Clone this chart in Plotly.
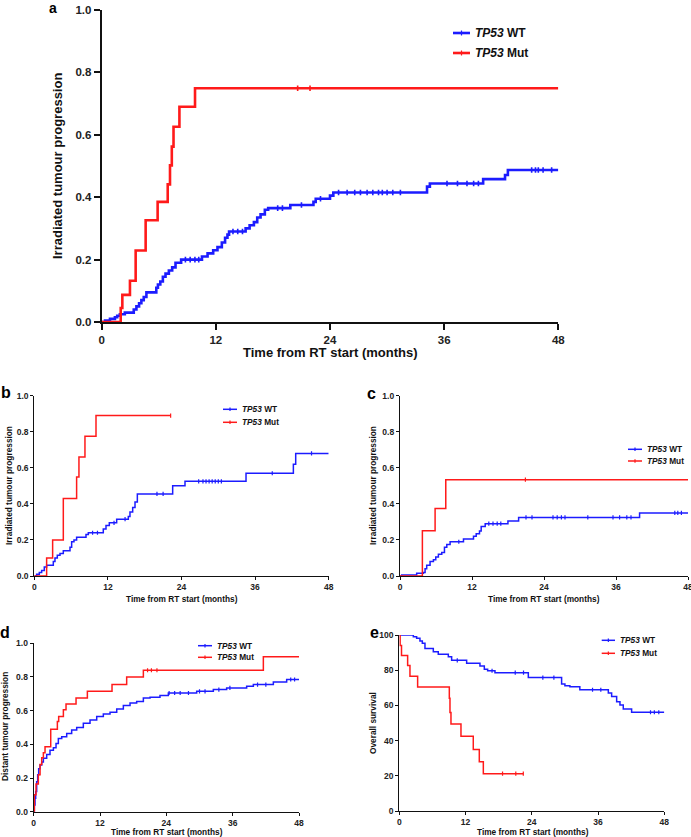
import plotly.graph_objects as go

W, H = 691, 837
FONT = "Liberation Sans, Arial, Helvetica, sans-serif"
RED = "#ff1a1a"
BLUE = "#1c1cff"

# ---------------- data (months, cumulative incidence / survival) ----------------
# Panel a
a_wt_t = [0, 0.35, 0.87, 1.39, 1.63, 1.91, 2.43, 3.37, 3.65, 3.93, 4.17, 4.42, 4.70, 5.74, 5.91, 6.16,
          6.43, 6.71, 7.06, 7.41, 7.76, 8.35, 10.54, 11.13, 11.72, 12.17, 12.63, 12.97, 13.22, 13.39,
          15.13, 15.55, 16.0, 16.35, 16.70, 17.15, 17.50, 19.83, 22.26, 22.50, 24.0, 24.35, 34.2,
          34.5, 40.1, 42.4, 42.7, 48]
a_wt_v = [0, 0.005, 0.01, 0.015, 0.02, 0.025, 0.03, 0.04, 0.05, 0.06, 0.07, 0.08, 0.095, 0.11, 0.12,
          0.13, 0.145, 0.155, 0.165, 0.175, 0.19, 0.2, 0.21, 0.22, 0.23, 0.24, 0.255, 0.27, 0.28, 0.29,
          0.3, 0.31, 0.32, 0.335, 0.345, 0.36, 0.365, 0.375, 0.385, 0.395, 0.405, 0.415, 0.434, 0.444,
          0.458, 0.471, 0.487, 0.487]
a_wt_c = [8.8, 9.3, 9.8, 10.2, 13.8, 14.3, 14.8, 18.5, 19.0, 21.0, 23.0, 24.9, 25.8, 26.6, 27.2, 27.9,
          28.5, 29.1, 29.5, 30.0, 30.6, 31.4, 36.3, 37.4, 38.4, 39.1, 39.6, 45.2, 45.6, 45.9, 46.4, 47.3]
a_mut_t = [0, 2.0, 2.17, 2.97, 3.57, 4.62, 5.88, 6.94, 7.18, 7.37, 7.55, 8.17, 9.81, 48]
a_mut_v = [0, 0.045, 0.087, 0.132, 0.229, 0.326, 0.385, 0.441, 0.502, 0.562, 0.626, 0.69, 0.749, 0.749]
a_mut_c = [20.6, 21.9]

# Panel b
b_wt_t = [0, 0.38, 0.82, 1.2, 1.63, 2.01, 3.1, 3.37, 3.75, 4.19, 4.73, 5.82, 6.09, 6.47, 6.9, 8.43,
          8.81, 11.25, 11.69, 12.23, 13.43, 15.33, 15.6, 16.04, 16.42, 16.8, 22.56, 24.57, 34.52,
          42.24, 42.62, 48]
b_wt_v = [0, 0.01, 0.02, 0.03, 0.05, 0.06, 0.08, 0.1, 0.115, 0.125, 0.14, 0.16, 0.19, 0.2, 0.215,
          0.23, 0.24, 0.26, 0.28, 0.295, 0.315, 0.33, 0.355, 0.38, 0.41, 0.455, 0.5, 0.525, 0.57,
          0.62, 0.68, 0.68]
b_wt_c = [9.5, 10.3, 13.0, 14.8, 20.0, 21.0, 26.8, 27.5, 28.0, 28.5, 29.0, 29.5, 30.0, 30.5, 38.8, 45.2]
b_mut_t = [0, 2.01, 2.99, 4.73, 6.90, 7.28, 8.26, 10.06, 22.23]
b_mut_v = [0, 0.1, 0.2, 0.43, 0.549, 0.66, 0.775, 0.89, 0.89]
b_mut_c = [22.23]

# Panel c
c_wt_t = [0, 0.28, 2.78, 3.9, 4.18, 4.45, 5.01, 5.57, 5.96, 6.4, 6.96, 7.41, 7.8, 8.35, 10.58, 12.25,
          12.7, 13.25, 13.53, 14.2, 17.99, 19.77, 39.93, 48]
c_wt_v = [0, 0.005, 0.015, 0.02, 0.04, 0.06, 0.08, 0.09, 0.105, 0.12, 0.13, 0.16, 0.175, 0.19, 0.205,
          0.22, 0.235, 0.25, 0.275, 0.29, 0.305, 0.325, 0.35, 0.35]
c_wt_c = [9.8, 14.8, 15.5, 16.2, 16.8, 21.0, 22.0, 25.5, 26.2, 26.9, 27.5, 31.3, 35.5, 36.6, 37.8,
          38.5, 45.8, 46.3, 46.9]
c_mut_t = [0, 3.73, 5.85, 7.63, 48]
c_mut_v = [0, 0.251, 0.375, 0.534, 0.534]
c_mut_c = [20.9]

# Panel d
d_wt_t = [0, 0.12, 0.24, 0.36, 0.54, 0.72, 0.9, 1.15, 1.45, 1.75, 2.35, 2.95, 3.56, 4.04, 4.46, 5.07,
          5.97, 6.87, 7.78, 8.98, 10.19, 11.4, 12.6, 13.81, 15.02, 16.22, 17.43, 18.63, 19.84, 21.05,
          22.85, 24.36, 29.49, 32.5, 34.91, 38.53, 39.74, 43.36, 45.77, 48]
d_wt_v = [0, 0.04, 0.08, 0.12, 0.178, 0.22, 0.255, 0.277, 0.295, 0.317, 0.34, 0.365, 0.38, 0.405,
          0.435, 0.445, 0.465, 0.485, 0.5, 0.525, 0.545, 0.565, 0.58, 0.59, 0.61, 0.63, 0.645, 0.655,
          0.675, 0.68, 0.69, 0.705, 0.715, 0.725, 0.735, 0.745, 0.755, 0.77, 0.785, 0.785]
d_wt_c = [24.5, 25.5, 26.5, 28.0, 30.0, 31.0, 33.5, 35.5, 40.5, 42.0, 46.5, 47.2]
d_mut_t = [0, 0.12, 0.42, 0.84, 1.15, 1.45, 1.75, 2.05, 3.08, 4.28, 4.52, 5.37, 5.85, 7.66, 9.71,
           14.17, 16.82, 19.84, 41.55, 48]
d_mut_v = [0, 0.1, 0.165, 0.22, 0.28, 0.32, 0.35, 0.385, 0.49, 0.535, 0.565, 0.605, 0.64, 0.675,
           0.715, 0.755, 0.8, 0.84, 0.92, 0.92]
d_mut_c = [20.6, 21.3, 22.3]

# Panel e (overall survival, %)
e_wt_t = [0, 2.54, 3.14, 3.74, 4.17, 4.65, 6.16, 7.06, 8.88, 9.48, 12.2, 14.61, 15.4, 16.0, 17.33,
          23.37, 29.4, 30.0, 30.9, 32.7, 37.86, 38.46, 39.37, 39.97, 40.57, 42.08, 48]
e_wt_v = [100, 99.05, 98.1, 96.6, 95.3, 92.4, 90.5, 89, 87.7, 85.6, 83.9, 82.4, 80.5, 79.7, 78.6,
          75.8, 72.2, 71.2, 70.6, 68.9, 67, 65, 62.1, 60.2, 58, 56.1, 56.1]
e_wt_c = [10.5, 16.8, 21.0, 22.5, 26.0, 28.0, 35.0, 36.5, 45.5, 46.2, 47.0]
e_mut_t = [0, 0.15, 0.4, 1.51, 1.93, 3.32, 9.06, 9.18, 9.36, 11.17, 13.4, 14.49, 15.22, 22.46]
e_mut_v = [100, 94, 88.3, 82.6, 76.5, 70.5, 64, 56, 49.5, 42.5, 35, 28, 21.2, 21.2]
e_mut_c = [18.7, 21.1, 22.46]

x_ticks = [0, 12, 24, 36, 48]
prop_ticks = [0.0, 0.2, 0.4, 0.6, 0.8, 1.0]
os_ticks = [0, 20, 40, 60, 80, 100]
x_title = "Time from RT start (months)"
legend_wt = "<i>TP53</i> WT"
legend_mut = "<i>TP53</i> Mut"

# ---------------- layout specification (pixels) ----------------
panels = [
    dict(label="a", box=(101.7, 558.3, 10, 322), yticks=prop_ticks, yfmt=".1f", yrange=[0, 1],
         ytitle="Irradiated tumour progression",
         wt=(a_wt_t, a_wt_v, a_wt_c), mut=(a_mut_t, a_mut_v, a_mut_c),
         lw=2.6, axw=2, tl=6, tf=11.5, titf=13, legf=12, msize=4, labf=14,
         lab=(52.5, 8.5), xt=(330, 353), yt=(57, 166),
         leg=(453, 470, 33, 53)),
    dict(label="b", box=(34.3, 328.7, 395.7, 576), yticks=prop_ticks, yfmt=".1f", yrange=[0, 1],
         ytitle="Irradiated tumour progression",
         wt=(b_wt_t, b_wt_v, b_wt_c), mut=(b_mut_t, b_mut_v, b_mut_c),
         lw=1.5, axw=1.2, tl=3, tf=8.5, titf=8.3, legf=8.3, msize=3, labf=16,
         lab=(6, 392), xt=(181.5, 598.5), yt=(9, 486),
         leg=(223, 237, 409.3, 422.3)),
    dict(label="c", box=(400, 688, 395.7, 576), yticks=prop_ticks, yfmt=".1f", yrange=[0, 1],
         ytitle="Irradiated tumour progression",
         wt=(c_wt_t, c_wt_v, c_wt_c), mut=(c_mut_t, c_mut_v, c_mut_c),
         lw=1.5, axw=1.2, tl=3, tf=8.5, titf=8.3, legf=8.3, msize=3, labf=16,
         lab=(372, 393), xt=(544, 598.5), yt=(373, 486),
         leg=(628, 642, 449.3, 461)),
    dict(label="d", box=(33.7, 299, 643.3, 811.7), yticks=prop_ticks, yfmt=".1f", yrange=[0, 1],
         ytitle="Distant tumour progression",
         wt=(d_wt_t, d_wt_v, d_wt_c), mut=(d_mut_t, d_mut_v, d_mut_c),
         lw=1.5, axw=1.2, tl=3, tf=8.5, titf=8.3, legf=8.3, msize=3, labf=16,
         lab=(5, 632), xt=(166.5, 832.3), yt=(5, 727),
         leg=(198, 212, 645.7, 657.3)),
    dict(label="e", box=(399.3, 664.3, 635, 811), yticks=os_ticks, yfmt="d", yrange=[0, 100],
         ytitle="Overall survival",
         wt=(e_wt_t, e_wt_v, e_wt_c), mut=(e_mut_t, e_mut_v, e_mut_c),
         lw=1.5, axw=1.2, tl=3, tf=8.5, titf=8.3, legf=8.3, msize=3, labf=16,
         lab=(374, 632), xt=(532.5, 832.3), yt=(373, 723),
         leg=(601.7, 615, 640.3, 653.3)),
]


def px(x):
    return x / W


def py(y):
    return 1 - y / H


def step_at(ts, vs, t):
    val = vs[0]
    for ti, vi in zip(ts, vs):
        if ti <= t:
            val = vi
    return val


fig = go.Figure()
annotations = []
shapes = []
layout = dict(width=W, height=H, margin=dict(l=0, r=0, t=0, b=0, pad=0, autoexpand=False),
              paper_bgcolor="white", plot_bgcolor="white", showlegend=False, template="none",
              font=dict(family=FONT, color="#111111"))

for i, p in enumerate(panels, start=1):
    xs = "x" if i == 1 else f"x{i}"
    ys = "y" if i == 1 else f"y{i}"
    xk = "xaxis" if i == 1 else f"xaxis{i}"
    yk = "yaxis" if i == 1 else f"yaxis{i}"
    x0, x1, ytop, ybot = p["box"]
    axis_common = dict(showline=True, linecolor="#111111", linewidth=p["axw"], ticks="outside",
                       ticklen=p["tl"], tickwidth=p["axw"], tickcolor="#111111", showgrid=False,
                       zeroline=False, automargin=False, ticklabeloverflow="allow",
                       tickfont=dict(family=FONT, size=p["tf"], weight="bold", color="#222222"))
    layout[xk] = dict(domain=[px(x0), px(x1)], range=[0, 48], tickvals=x_ticks, anchor=ys,
                      **axis_common)
    layout[yk] = dict(domain=[py(ybot), py(ytop)], range=p["yrange"], tickvals=p["yticks"],
                      tickformat=p["yfmt"], anchor=xs, **axis_common)

    for key, col in (("wt", BLUE), ("mut", RED)):
        ts, vs, cs = p[key]
        assert len(ts) == len(vs)
        fig.add_trace(go.Scatter(x=ts, y=vs, mode="lines", line=dict(color=col, width=p["lw"], shape="hv"),
                                 xaxis=xs, yaxis=ys, hoverinfo="skip"))
        cy = [step_at(ts, vs, c) for c in cs]
        fig.add_trace(go.Scatter(x=cs, y=cy, mode="markers",
                                 marker=dict(symbol="line-ns", size=p["msize"],
                                             line=dict(color=col, width=1.2 if i > 1 else 1.6)),
                                 xaxis=xs, yaxis=ys, hoverinfo="skip"))

    # panel label
    annotations.append(dict(text=f"<b>{p['label']}</b>", x=px(p["lab"][0]), y=py(p["lab"][1]),
                            xref="paper", yref="paper", xanchor="center", yanchor="middle",
                            showarrow=False, font=dict(family=FONT, size=p["labf"], color="black")))
    # axis titles
    annotations.append(dict(text=f"<b>{x_title}</b>", x=px(p["xt"][0]), y=py(p["xt"][1]),
                            xref="paper", yref="paper", xanchor="center", yanchor="middle",
                            showarrow=False, font=dict(family=FONT, size=p["titf"], color="#111111")))
    annotations.append(dict(text=f"<b>{p['ytitle']}</b>", x=px(p["yt"][0]), y=py(p["yt"][1]),
                            xref="paper", yref="paper", xanchor="center", yanchor="middle",
                            textangle=-90, showarrow=False,
                            font=dict(family=FONT, size=p["titf"], color="#111111")))
    # legend
    lx0, lx1, ly_wt, ly_mut = p["leg"]
    for name, col, ly in ((legend_wt, BLUE, ly_wt), (legend_mut, RED, ly_mut)):
        shapes.append(dict(type="line", xref="paper", yref="paper", x0=px(lx0), x1=px(lx1),
                           y0=py(ly), y1=py(ly), line=dict(color=col, width=p["lw"])))
        mid = (lx0 + lx1) / 2
        tick = 1.8 if i > 1 else 2.5
        shapes.append(dict(type="line", xref="paper", yref="paper", x0=px(mid), x1=px(mid),
                           y0=py(ly - tick), y1=py(ly + tick), line=dict(color=col, width=1.2)))
        annotations.append(dict(text=f"<b>{name}</b>", x=px(lx1 + 3), y=py(ly), xref="paper",
                                yref="paper", xanchor="left", yanchor="middle", showarrow=False,
                                font=dict(family=FONT, size=p["legf"], color="#111111")))

layout["annotations"] = annotations
layout["shapes"] = shapes
fig.update_layout(**layout)
fig.write_html("out.html", config={"displayModeBar": False},
               post_script="document.body.style.margin='0px';document.body.style.overflow='hidden';")
